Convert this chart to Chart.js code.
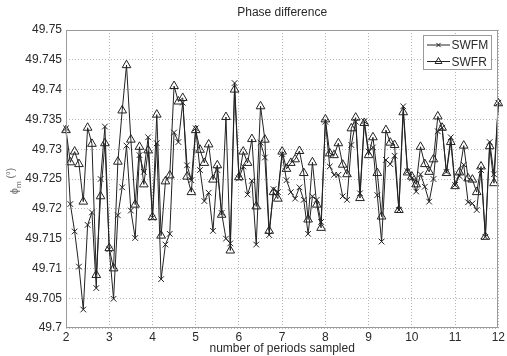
<!DOCTYPE html>
<html>
<head>
<meta charset="utf-8">
<script src="https://cdn.jsdelivr.net/npm/chart.js@4.4.0/dist/chart.umd.min.js"></script>
<style>
  html, body { margin: 0; padding: 0; background: #fff; }
  canvas { display: block; }
</style>
</head>
<body>
<canvas id="c" width="507" height="356" style="width:507px;height:356px"></canvas>
<script>
// Number of periods sampled (x positions of the samples)
const periods = [
  2.0, 2.1, 2.2, 2.3, 2.4, 2.5, 2.6, 2.7, 2.8, 2.9,
  3.0, 3.1, 3.2, 3.3, 3.4, 3.5, 3.6, 3.7, 3.8, 3.9,
  4.0, 4.1, 4.2, 4.3, 4.4, 4.5, 4.6, 4.7, 4.8, 4.9,
  5.0, 5.1, 5.2, 5.3, 5.4, 5.5, 5.6, 5.7, 5.8, 5.9,
  6.0, 6.1, 6.2, 6.3, 6.4, 6.5, 6.6, 6.7, 6.8, 6.9,
  7.0, 7.1, 7.2, 7.3, 7.4, 7.5, 7.6, 7.7, 7.8, 7.9,
  8.0, 8.1, 8.2, 8.3, 8.4, 8.5, 8.6, 8.7, 8.8, 8.9,
  9.0, 9.1, 9.2, 9.3, 9.4, 9.5, 9.6, 9.7, 9.8, 9.9,
  10.0, 10.1, 10.2, 10.3, 10.4, 10.5, 10.6, 10.7, 10.8, 10.9,
  11.0, 11.1, 11.2, 11.3, 11.4, 11.5, 11.6, 11.7, 11.8, 11.9,
  12.0
];

// Estimated phase (degrees) – SWFM method
const swfm = [
  49.7335, 49.7208, 49.7162, 49.7103, 49.7031, 49.7173, 49.7194, 49.7067, 49.7250, 49.7338,
  49.7132, 49.7049, 49.7189, 49.7236, 49.7306, 49.7197, 49.7151, 49.7290, 49.7262, 49.7320,
  49.7185, 49.7310, 49.7082, 49.7140, 49.7158, 49.7328, 49.7312, 49.7378, 49.7273, 49.7248,
  49.7335, 49.7265, 49.7213, 49.7227, 49.7163, 49.7265, 49.7193, 49.7150, 49.7142, 49.7411,
  49.7251, 49.7271, 49.7224, 49.7247, 49.7140, 49.7311, 49.7286, 49.7156, 49.7233, 49.7228,
  49.7292, 49.7248, 49.7228, 49.7217, 49.7236, 49.7215, 49.7158, 49.7221, 49.7215, 49.7178,
  49.7346, 49.7271, 49.7257, 49.7257, 49.7221, 49.7215, 49.7307, 49.7346, 49.7226, 49.7347,
  49.7296, 49.7303, 49.7223, 49.7145, 49.7282, 49.7275, 49.7289, 49.7198, 49.7372, 49.7263,
  49.7251, 49.7229, 49.7258, 49.7237, 49.7212, 49.7250, 49.7330, 49.7336, 49.7262, 49.7320,
  49.7240, 49.7255, 49.7274, 49.7211, 49.7209, 49.7198, 49.7265, 49.7153, 49.7312, 49.7258,
  49.7378
];

// Estimated phase (degrees) – SWFR method
const swfr = [
  49.7332, 49.7278, 49.7296, 49.7275, 49.7212, 49.7336, 49.7309, 49.7089, 49.7221, 49.7310,
  49.7134, 49.7100, 49.7279, 49.7365, 49.7441, 49.7316, 49.7207, 49.7304, 49.7241, 49.7298,
  49.7186, 49.7358, 49.7155, 49.7246, 49.7256, 49.7406, 49.7380, 49.7386, 49.7254, 49.7228,
  49.7332, 49.7299, 49.7277, 49.7308, 49.7249, 49.7273, 49.7190, 49.7354, 49.7130, 49.7400,
  49.7253, 49.7296, 49.7277, 49.7317, 49.7204, 49.7372, 49.7316, 49.7163, 49.7228, 49.7217,
  49.7296, 49.7267, 49.7277, 49.7283, 49.7297, 49.7260, 49.7182, 49.7278, 49.7207, 49.7168,
  49.7350, 49.7293, 49.7290, 49.7310, 49.7274, 49.7258, 49.7335, 49.7353, 49.7218, 49.7344,
  49.7290, 49.7320, 49.7260, 49.7187, 49.7332, 49.7311, 49.7307, 49.7198, 49.7362, 49.7261,
  49.7254, 49.7241, 49.7304, 49.7275, 49.7262, 49.7283, 49.7355, 49.7336, 49.7260, 49.7312,
  49.7238, 49.7261, 49.7306, 49.7251, 49.7249, 49.7228, 49.7271, 49.7153, 49.7305, 49.7243,
  49.7377
];

const seriesNames = ['SWFM', 'SWFR'];

const xTicks = [2, 3, 4, 5, 6, 7, 8, 9, 10, 11, 12];
const xTickLabels = ['2', '3', '4', '5', '6', '7', '8', '9', '10', '11', '12'];
const yTicks = [49.7, 49.705, 49.71, 49.715, 49.72, 49.725, 49.73, 49.735, 49.74, 49.745, 49.75];
const yTickLabels = ['49.7', '49.705', '49.71', '49.715', '49.72', '49.725', '49.73', '49.735', '49.74', '49.745', '49.75'];

const chartTitle = 'Phase difference';
const xAxisTitle = 'number of periods sampled';

const FONT = "'Liberation Sans', Arial, Helvetica, sans-serif";
const TEXT = '#2a2a2a';
const CAPTION = '#6a6a6a';
const LINE = '#222222';
const FRAME = '#9a9a9a';

const toPoints = (ys) => periods.map((p, i) => ({ x: p, y: ys[i] }));

// Title, axis captions, frame and legend drawn on top of the plot
const decorations = {
  id: 'decorations',
  afterDraw(chart) {
    const { ctx, chartArea: a } = chart;
    const cx = (a.left + a.right) / 2;
    ctx.save();

    // axes box
    ctx.strokeStyle = FRAME;
    ctx.lineWidth = 1;
    ctx.strokeRect(Math.round(a.left) + 0.5, Math.round(a.top) + 0.5,
                   Math.round(a.right - a.left) - 1, Math.round(a.bottom - a.top) - 1);

    ctx.fillStyle = TEXT;
    ctx.textAlign = 'center';
    ctx.textBaseline = 'middle';
    ctx.font = '12px ' + FONT;
    ctx.fillText(chartTitle, cx, 13);
    ctx.fillText(xAxisTitle, cx, 349);

    // y caption: phi with subscript m, then unit
    ctx.save();
    ctx.fillStyle = CAPTION;
    ctx.translate(14, (a.top + a.bottom) / 2 + 2);
    ctx.rotate(-Math.PI / 2);
    ctx.textAlign = 'left';
    ctx.textBaseline = 'alphabetic';
    const f1 = '11px ' + FONT, f2 = '8px ' + FONT, f3 = '10px ' + FONT;
    ctx.font = f1; const w1 = ctx.measureText('\u03D5').width;
    ctx.font = f2; const w2 = ctx.measureText('m').width;
    ctx.font = f3; const w3 = ctx.measureText(' (\u00B0)').width;
    let x0 = -(w1 + w2 + w3) / 2;
    ctx.font = f1; ctx.fillText('\u03D5', x0, 4); x0 += w1;
    ctx.font = f2; ctx.fillText('m', x0, 7); x0 += w2;
    ctx.font = f3; ctx.fillText(' (\u00B0)', x0, 0);
    ctx.restore();

    // legend
    const lx = 423, ly = 35, lw = 69, lh = 35;
    ctx.fillStyle = '#fff';
    ctx.fillRect(lx, ly, lw, lh);
    ctx.strokeStyle = FRAME;
    ctx.lineWidth = 1;
    ctx.strokeRect(lx + 0.5, ly + 0.5, lw - 1, lh - 1);
    const legendRadius = [3, 4];
    chart.data.datasets.forEach((ds, i) => {
      const y = ly + 10 + i * 16.5;
      ctx.strokeStyle = ds.borderColor;
      ctx.lineWidth = ds.borderWidth;
      ctx.beginPath();
      ctx.moveTo(lx + 4, y);
      ctx.lineTo(lx + 27, y);
      ctx.stroke();
      ctx.fillStyle = 'rgba(0,0,0,0)';
      Chart.helpers.drawPoint(ctx, {
        pointStyle: ds.pointStyle,
        radius: legendRadius[i],
        borderWidth: ds.pointBorderWidth,
        rotation: 0
      }, lx + 15.5, y);
      ctx.fillStyle = TEXT;
      ctx.font = '12px ' + FONT;
      ctx.textAlign = 'left';
      ctx.textBaseline = 'middle';
      ctx.fillText(ds.label, lx + 28.5, y + 1);
    });
    ctx.restore();
  }
};

new Chart(document.getElementById('c'), {
  type: 'line',
  data: {
    datasets: [
      {
        label: seriesNames[0],
        data: toPoints(swfm),
        borderColor: LINE,
        backgroundColor: 'rgba(0,0,0,0)',
        borderWidth: 1,
        pointStyle: 'crossRot',
        pointRadius: 4,
        pointBorderWidth: 1,
        pointBorderColor: LINE,
        tension: 0,
        clip: false,
        order: 1
      },
      {
        label: seriesNames[1],
        data: toPoints(swfr),
        borderColor: LINE,
        backgroundColor: 'rgba(0,0,0,0)',
        borderWidth: 1,
        pointStyle: 'triangle',
        pointRadius: 5,
        pointBorderWidth: 1,
        pointBorderColor: LINE,
        pointBackgroundColor: 'rgba(0,0,0,0)',
        tension: 0,
        clip: false,
        order: 0
      }
    ]
  },
  options: {
    responsive: false,
    devicePixelRatio: 1,
    animation: false,
    layout: { padding: { top: 30, right: 6, left: 0, bottom: 0 } },
    plugins: {
      legend: { display: false },
      title: { display: false },
      tooltip: { enabled: false }
    },
    scales: {
      x: {
        type: 'linear',
        min: 2,
        max: 12,
        afterBuildTicks: (axis) => { axis.ticks = xTicks.map(v => ({ value: v })); },
        afterFit: (axis) => { axis.height = 28; },
        ticks: {
          autoSkip: false,
          maxRotation: 0,
          padding: 2,
          color: TEXT,
          font: { family: FONT, size: 12 },
          callback: (v, i) => xTickLabels[i]
        },
        grid: { color: '#b4b4b4', lineWidth: 1, drawTicks: false },
        border: { display: false, dash: [1, 2] }
      },
      y: {
        type: 'linear',
        min: 49.7,
        max: 49.75,
        afterBuildTicks: (axis) => { axis.ticks = yTicks.map(v => ({ value: v })); },
        afterFit: (axis) => { axis.width = 66; },
        ticks: {
          autoSkip: false,
          padding: 4,
          color: TEXT,
          font: { family: FONT, size: 12 },
          callback: (v, i) => yTickLabels[i]
        },
        grid: { color: '#b4b4b4', lineWidth: 1, drawTicks: false },
        border: { display: false, dash: [1, 2] }
      }
    }
  },
  plugins: [decorations]
});
</script>
</body>
</html>
